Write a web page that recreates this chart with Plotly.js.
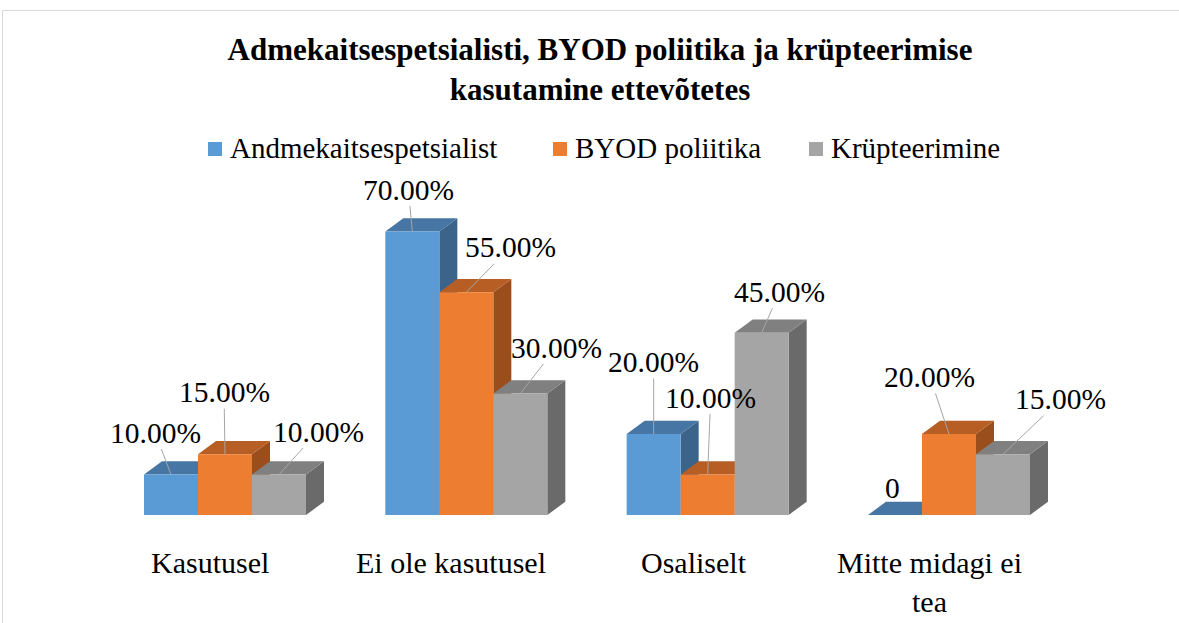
<!DOCTYPE html>
<html>
<head>
<meta charset="utf-8">
<script src="https://cdn.plot.ly/plotly-3.0.1.min.js"></script>
<style>
html,body{margin:0;padding:0;background:#fff;}
#chart{width:1179px;height:623px;}
</style>
</head>
<body>
<div id="chart"></div>
<script>
// ---- data ----
const categories = ["Kasutusel", "Ei ole kasutusel", "Osaliselt", "Mitte midagi ei<br>tea"];
const seriesNames = ["Andmekaitsespetsialist", "BYOD poliitika", "Krüpteerimine"];
const andmekaitsespetsialist = [0.10, 0.70, 0.20, 0.00];
const byodPoliitika = [0.15, 0.55, 0.10, 0.20];
const krypteerimine = [0.10, 0.30, 0.45, 0.15];
const titleText = "Admekaitsespetsialisti, BYOD poliitika ja krüpteerimise<br>kasutamine ettevõtetes";

// ---- styles ----
const W = 1179, H = 623;
const pxPerX = 241.33;       // pixels per category
const x0px = 225;            // pixel position of first category
const pxPerY = 405;          // pixels per 100%
const basePx = 515;          // baseline pixel
const barW = 54 / pxPerX;
const dX = 18 / pxPerX;
const dY = 13.3 / pxPerY;
const FONT = "'Liberation Serif', 'Times New Roman', serif";
const colors = [
  {front: "#5b9bd5", top: "#4775a4", side: "#3c648b"},
  {front: "#ed7d31", top: "#b65e23", side: "#9a4e1c"},
  {front: "#a5a5a5", top: "#808080", side: "#6a6a6a"}
];
const labelOffsets = [ // [ax, ay] pixel offsets per series per category
  [[-16, -42], [-4, -42], [0, -72], [-2, -27]],
  [[-1, -62], [44, -45], [3, -77], [-19, -57]],
  [[39, -43], [36, -46], [18, -41], [58, -55]]
];
const catLabelDx = [-0.062, -0.062, -0.055, -0.08];

const seriesData = [andmekaitsespetsialist, byodPoliitika, krypteerimine];
const traces = [];
const annotations = [];

seriesData.forEach((vals, s) => {
  const faces = {front: {x: [], y: []}, top: {x: [], y: []}, side: {x: [], y: []}};
  vals.forEach((v, i) => {
    const c = i + (s - 1) * barW;
    const l = c - barW / 2, r = c + barW / 2;
    const push = (f, xs, ys) => { faces[f].x.push(...xs, null); faces[f].y.push(...ys, null); };
    push("side", [r, r + dX, r + dX, r], [0, dY, v + dY, v]);
    push("top", [l, r, r + dX, l + dX], [v, v, v + dY, v + dY]);
    if (v > 0) push("front", [l, r, r, l], [0, 0, v, v]);
    annotations.push({
      x: c, y: v, xref: "x", yref: "y",
      text: v === 0 ? "0" : (v * 100).toFixed(2) + "%",
      showarrow: true, arrowhead: 0,
      arrowwidth: v === 0 ? 0.01 : 1,
      arrowcolor: v === 0 ? "rgba(0,0,0,0)" : "#a6a6a6",
      ax: labelOffsets[s][i][0], ay: labelOffsets[s][i][1],
      font: {family: FONT, size: 29.5, color: "#000"},
      borderpad: 0, standoff: 0, startstandoff: 0
    });
  });
  ["side", "top", "front"].forEach(f => {
    traces.push({
      type: "scatter", mode: "lines", x: faces[f].x, y: faces[f].y,
      fill: "toself", fillcolor: colors[s][f], line: {width: 0, color: colors[s][f]},
      hoverinfo: "skip", showlegend: false, name: seriesNames[s]
    });
  });
});

categories.forEach((cat, i) => {
  annotations.push({
    x: i + catLabelDx[i], y: 1 - 544 / H, xref: "x", yref: "paper",
    text: cat, showarrow: false, xanchor: "center", yanchor: "top",
    font: {family: FONT, size: 30, color: "#000"}
  });
});

// manual legend
const legendX = [208, 553, 809];
const shapes = [
  {type: "line", xref: "paper", yref: "paper", x0: 2.5 / W, x1: 2.5 / W, y0: -0.1, y1: 1 - 10.5 / H, line: {color: "#d9d9d9", width: 1}},
  {type: "line", xref: "paper", yref: "paper", x0: 2.5 / W, x1: 1.1, y0: 1 - 10.5 / H, y1: 1 - 10.5 / H, line: {color: "#d9d9d9", width: 1}}
];
seriesNames.forEach((n, s) => {
  shapes.push({
    type: "rect", xref: "paper", yref: "paper",
    x0: legendX[s] / W, x1: (legendX[s] + 14) / W,
    y0: 1 - 156 / H, y1: 1 - 142 / H,
    fillcolor: colors[s].front, line: {width: 0}
  });
  annotations.push({
    x: (legendX[s] + 20) / W, y: 1 - 148 / H, xref: "paper", yref: "paper",
    text: n, showarrow: false, xanchor: "left", yanchor: "middle",
    font: {family: FONT, size: 29, color: "#000"}
  });
});

const layout = {
  width: W, height: H,
  margin: {l: 0, r: 0, t: 0, b: 0},
  paper_bgcolor: "#fff", plot_bgcolor: "#fff",
  showlegend: false,
  title: {
    text: titleText, x: 600 / W, xanchor: "center", xref: "paper",
    y: 1 - 60 / H, yanchor: "middle", yref: "paper",
    font: {family: FONT, size: 31, color: "#000", weight: "bold"}
  },
  xaxis: {range: [-x0px / pxPerX, (W - x0px) / pxPerX], visible: false, fixedrange: true},
  yaxis: {range: [(basePx - H) / pxPerY, basePx / pxPerY], visible: false, fixedrange: true},
  shapes: shapes,
  annotations: annotations
};

Plotly.newPlot("chart", traces, layout, {displayModeBar: false, staticPlot: true});
</script>
</body>
</html>
